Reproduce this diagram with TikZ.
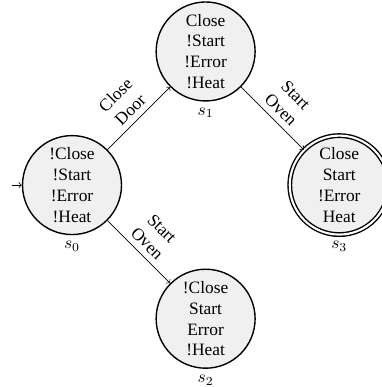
\documentclass[tikz,border=0pt]{standalone}
\usepackage{amsmath,amssymb}
\usepackage{fontspec}
\setmainfont{Liberation Serif}
\usetikzlibrary{automata}
\usetikzlibrary{arrows}

\begin{document}
\begin{tikzpicture}[
    every state/.style={draw,thick,fill=black!6,minimum size=2cm,inner sep=1pt,align=center},
    accepting/.style={double,double distance=1.2pt},
    initial distance=1.25ex,
    edgelabel/.style={sloped,above,align=center}]
    \def\D{2.7}
    \useasboundingbox (-1.455,-4.08) rectangle (6.26,3.74);

    % STATES
    \node[state,initial,initial text=,label=below:$s_0$] (s0) at (0,0) {!Close\\!Start\\!Error\\!Heat};
    \node[state,label=below:$s_1$] (s1) at (\D,\D) {Close\\!Start\\!Error\\!Heat};
    \node[state,label=below:$s_2$] (s2) at (\D,-\D) {!Close\\Start\\Error\\!Heat};
    \node[state,accepting,label=below:$s_3$] (s3) at (2*\D,0) {Close\\Start\\!Error\\Heat};

    % TRANSITIONS
    \draw[->] (s0) -- node[edgelabel] {Close\\Door} (s1);
    \draw[->] (s1) -- node[edgelabel] {Start\\Oven} (s3);
    \draw[->] (s0) -- node[edgelabel] {Start\\Oven} (s2);
\end{tikzpicture}
\end{document}
